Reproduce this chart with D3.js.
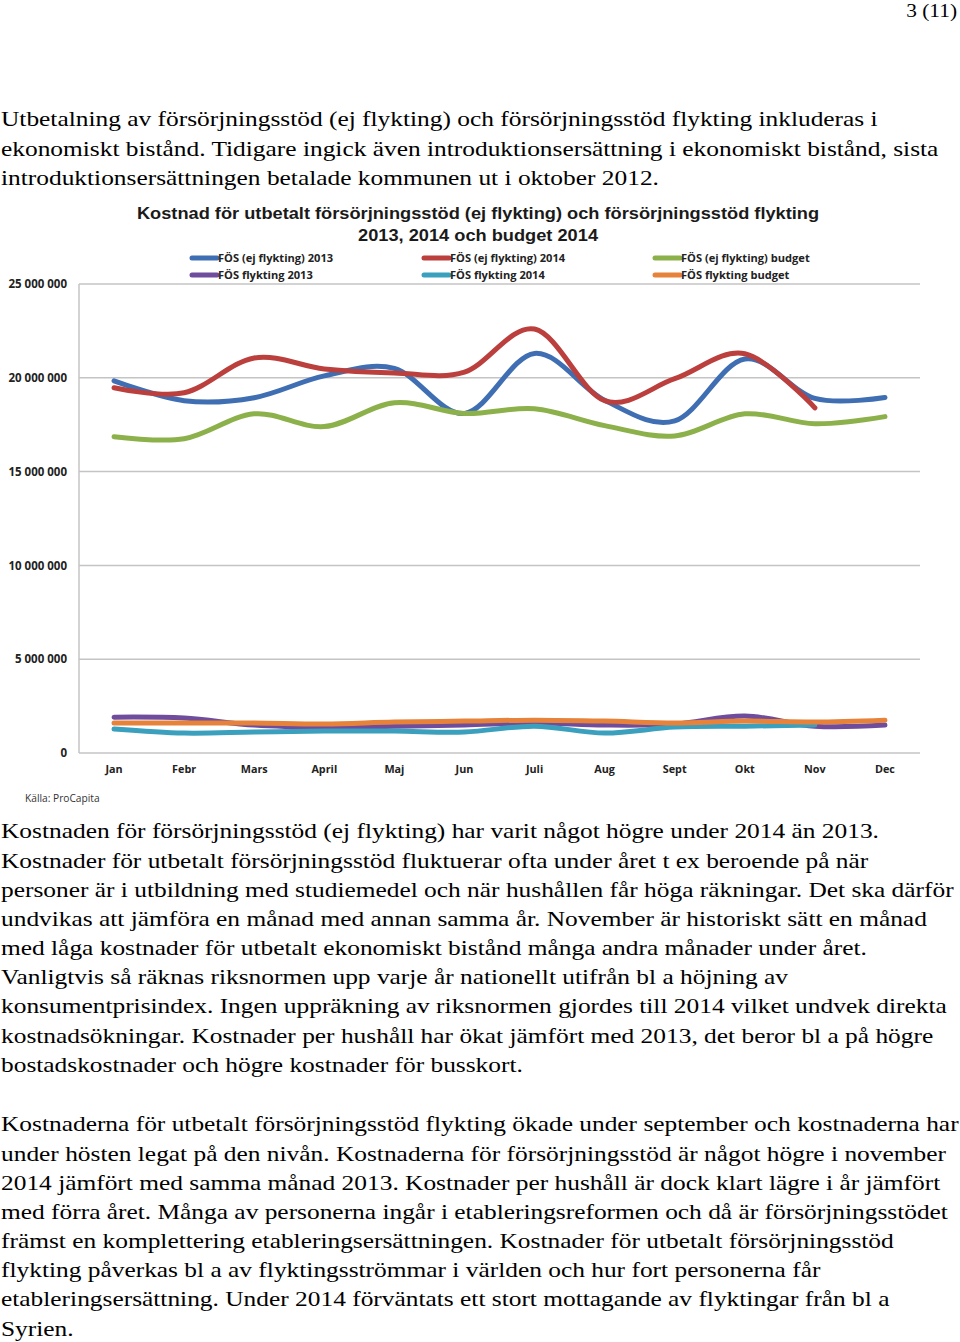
<!DOCTYPE html>
<html>
<head>
<meta charset="utf-8">
<script src="https://cdn.jsdelivr.net/npm/d3@7"></script>
<style>
  html, body { margin: 0; padding: 0; background: #fff; }
  svg { display: block; }
</style>
</head>
<body>
<svg id="page" width="960" height="1342"></svg>
<script>
// ---------- DATA ----------
const months = ["Jan","Febr","Mars","April","Maj","Jun","Juli","Aug","Sept","Okt","Nov","Dec"];
const yTicks = [0, 5000000, 10000000, 15000000, 20000000, 25000000];
const yTickLabels = ["0","5 000 000","10 000 000","15 000 000","20 000 000","25 000 000"];

const fosEj2013   = [19840000,18780000,18940000,20100000,20500000,18100000,21300000,18800000,17700000,21000000,18900000,18950000];
const fosEj2014   = [19470000,19200000,21060000,20470000,20260000,20300000,22600000,18780000,19950000,21280000,18400000,null];
const fosEjBudget = [16860000,16750000,18080000,17400000,18670000,18100000,18350000,17450000,16900000,18080000,17550000,17930000];
const fosFl2013   = [1910000,1860000,1490000,1380000,1430000,1490000,1600000,1490000,1540000,1970000,1430000,1490000];
const fosFl2014   = [1280000,1060000,1120000,1170000,1170000,1120000,1430000,1060000,1380000,1430000,1490000,null];
const fosFlBudget = [1600000,1600000,1600000,1540000,1650000,1700000,1750000,1700000,1600000,1700000,1650000,1750000];

const seriesNames = ["FÖS (ej flykting) 2013","FÖS (ej flykting) 2014","FÖS (ej flykting) budget",
                     "FÖS flykting 2013","FÖS flykting 2014","FÖS flykting budget"];
const seriesValues = [fosEj2013, fosEj2014, fosEjBudget, fosFl2013, fosFl2014, fosFlBudget];
const seriesColors = ["#3f6fb2","#bb3f3c","#8cb14b","#6f4d9c","#3aa0bd","#e6823a"];

const chartTitle = ["Kostnad för utbetalt försörjningsstöd (ej flykting) och försörjningsstöd flykting",
                    "2013, 2014 och budget 2014"];
const sourceText = "Källa: ProCapita";
const pageNumber = "3 (11)";

const para1 = [
 "Utbetalning av försörjningsstöd (ej flykting) och försörjningsstöd flykting inkluderas i",
 "ekonomiskt bistånd. Tidigare ingick även introduktionsersättning i ekonomiskt bistånd, sista",
 "introduktionsersättningen betalade kommunen ut i oktober 2012."
];
const para2 = [
 "Kostnaden för försörjningsstöd (ej flykting) har varit något högre under 2014 än 2013.",
 "Kostnader för utbetalt försörjningsstöd fluktuerar ofta under året t ex beroende på när",
 "personer är i utbildning med studiemedel och när hushållen får höga räkningar. Det ska därför",
 "undvikas att jämföra en månad med annan samma år. November är historiskt sätt en månad",
 "med låga kostnader för utbetalt ekonomiskt bistånd många andra månader under året.",
 "Vanligtvis så räknas riksnormen upp varje år nationellt utifrån bl a höjning av",
 "konsumentprisindex. Ingen uppräkning av riksnormen gjordes till 2014 vilket undvek direkta",
 "kostnadsökningar. Kostnader per hushåll har ökat jämfört med 2013, det beror bl a på högre",
 "bostadskostnader och högre kostnader för busskort."
];
const para3 = [
 "Kostnaderna för utbetalt försörjningsstöd flykting ökade under september och kostnaderna har",
 "under hösten legat på den nivån. Kostnaderna för försörjningsstöd är något högre i november",
 "2014 jämfört med samma månad 2013. Kostnader per hushåll är dock klart lägre i år jämfört",
 "med förra året. Många av personerna ingår i etableringsreformen och då är försörjningsstödet",
 "främst en komplettering etableringsersättningen. Kostnader för utbetalt försörjningsstöd",
 "flykting påverkas bl a av flyktingsströmmar i världen och hur fort personerna får",
 "etableringsersättning. Under 2014 förväntats ett stort mottagande av flyktingar från bl a",
 "Syrien."
];

// ---------- PAGE ----------
const svg = d3.select("#page");
const serif = "'Liberation Serif','Times New Roman',serif";
const sans = "'Open Sans','Liberation Sans',Arial,sans-serif";
const lineH = 29.15;
const stretch = 1.155;

svg.append("text").attr("transform", `translate(957,17) scale(${stretch},1)`).attr("text-anchor","end")
  .attr("font-family", serif).attr("font-size", 18.5).attr("fill","#000").text(pageNumber);

function drawPara(lines, y0) {
  svg.append("g").attr("transform", `translate(1,0) scale(${stretch},1)`)
    .selectAll("text").data(lines).join("text")
    .attr("x", 0).attr("y", (d,i) => y0 + i*lineH)
    .attr("font-family", serif).attr("font-size", 22).attr("fill","#000")
    .text(d => d);
}
drawPara(para1, 126.5);
drawPara(para2, 838.5);
drawPara(para3, 1131.5);

// ---------- CHART ----------
const plot = {left: 79, right: 920, top: 284, bottom: 753};
const x = d3.scaleBand().domain(months).range([plot.left, plot.right]);
const y = d3.scaleLinear().domain([0, 25000000]).range([plot.bottom, plot.top]);

const chart = svg.append("g");

// title
chart.append("g").attr("transform", "translate(478,0) scale(1.105,1)")
  .selectAll("text").data(chartTitle).join("text")
  .attr("x", 0).attr("y", (d,i) => 219 + i*22)
  .attr("text-anchor","middle")
  .attr("font-family", "'Liberation Sans',Arial,sans-serif")
  .attr("font-weight","bold").attr("font-size", 16.5).attr("fill","#1a1a1a")
  .text(d => d);

// gridlines
chart.append("g").selectAll("line").data(yTicks).join("line")
  .attr("x1", plot.left).attr("x2", plot.right)
  .attr("y1", d => y(d)).attr("y2", d => y(d))
  .attr("stroke", "#c4c4c4").attr("stroke-width", 1.5);
// left axis line
chart.append("line").attr("x1", plot.left).attr("x2", plot.left)
  .attr("y1", plot.top).attr("y2", plot.bottom)
  .attr("stroke", "#c4c4c4").attr("stroke-width", 1.5);

// y axis labels
const yAxis = d3.axisLeft(y).tickValues(yTicks).tickSize(0).tickPadding(12)
  .tickFormat(d => yTickLabels[yTicks.indexOf(d)]);
const yg = chart.append("g").attr("transform", `translate(${plot.left},0)`).call(yAxis);
yg.select(".domain").remove();
yg.selectAll("text").attr("font-family", sans).attr("font-weight","bold")
  .attr("font-size", 11.5).attr("fill","#222");

// x axis labels
const xAxis = d3.axisBottom(x).tickSize(0).tickPadding(12);
const xg = chart.append("g").attr("transform", `translate(0,${plot.bottom})`).call(xAxis);
xg.select(".domain").remove();
xg.selectAll("text").attr("font-family", sans).attr("font-weight","bold")
  .attr("font-size", 10.8).attr("fill","#222");

// lines
const line = d3.line()
  .defined(d => d != null)
  .x((d,i) => x(months[i]) + x.bandwidth()/2)
  .y(d => y(d))
  .curve(d3.curveCardinal.tension(0));

chart.append("g").selectAll("path").data(seriesValues).join("path")
  .attr("d", d => line(d))
  .attr("fill","none")
  .attr("stroke", (d,i) => seriesColors[i])
  .attr("stroke-width", 5)
  .attr("stroke-linecap","round")
  .attr("stroke-linejoin","round");

// legend
const legendPos = [[190,258],[422,258],[653,258],[190,275],[422,275],[653,275]];
const lg = chart.append("g").selectAll("g").data(seriesNames).join("g")
  .attr("transform", (d,i) => `translate(${legendPos[i][0]},${legendPos[i][1]})`);
lg.append("line").attr("x1", 2).attr("x2", 27).attr("y1", 0).attr("y2", 0)
  .attr("stroke", (d,i) => seriesColors[i]).attr("stroke-width", 5).attr("stroke-linecap","round");
lg.append("text").attr("x", 28).attr("y", 4)
  .attr("font-family", sans).attr("font-weight","bold").attr("font-size", 11.1)
  .attr("fill","#222").text(d => d);

// source
chart.append("text").attr("x", 25).attr("y", 802)
  .attr("font-family", sans).attr("font-size", 10.2).attr("fill","#333").text(sourceText);
</script>
</body>
</html>
